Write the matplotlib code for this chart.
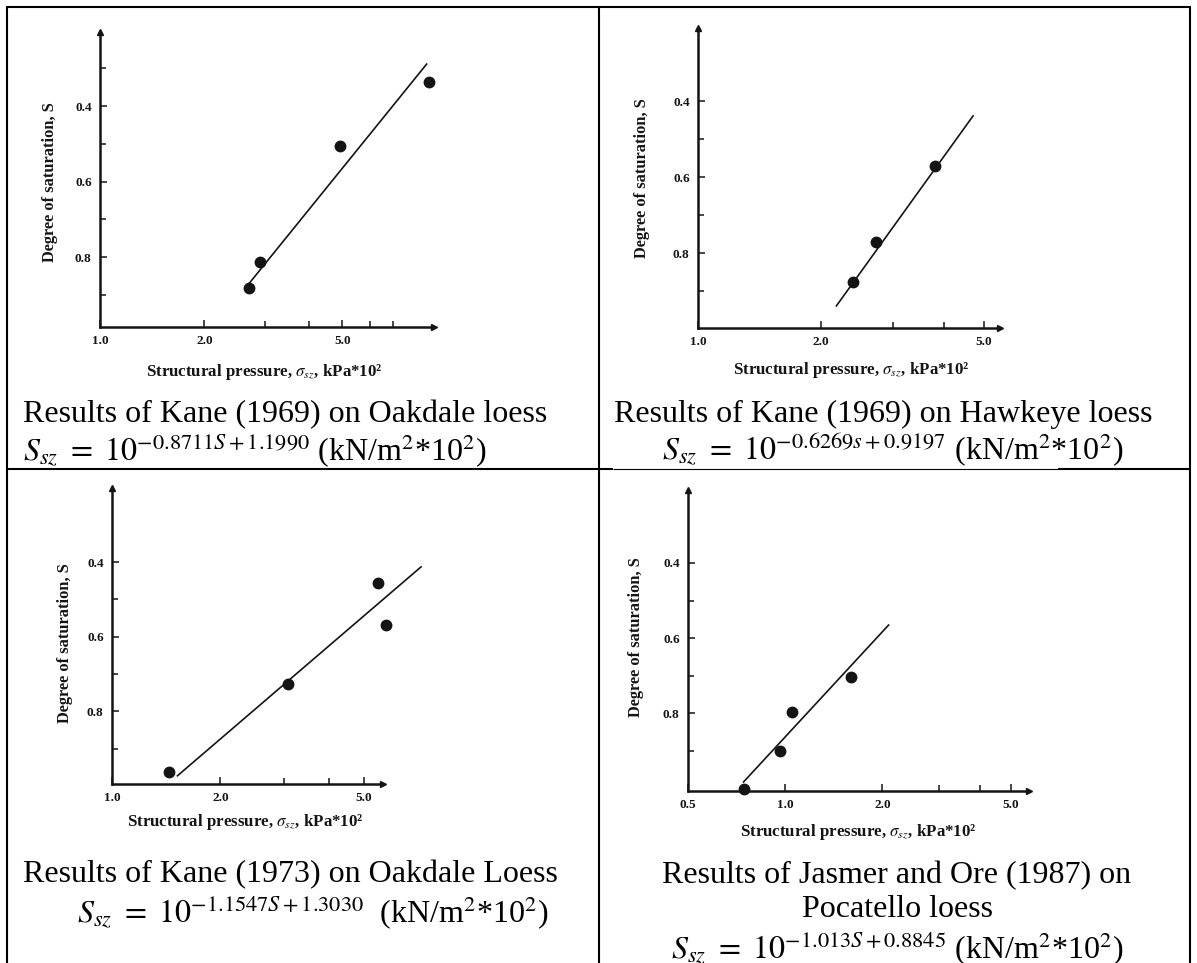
"""
Four saturation vs structural pressure plots laid out in a 2x2 table with captions.
"""

import matplotlib
matplotlib.use('Agg')
import matplotlib.pyplot as plt
from matplotlib.lines import Line2D

W, H = 1197, 963  # output size in pixels (dpi = 100)

# Kane (1969), Oakdale loess
oak69_pressure = [2.69, 2.89, 4.92, 8.87]
oak69_sat = [0.881, 0.813, 0.506, 0.337]
oak69_fit_pressure = [2.67, 8.76]
oak69_fit_sat = [0.874, 0.289]

# Kane (1969), Hawkeye loess
hawk_pressure = [2.39, 2.72, 3.80]
hawk_sat = [0.876, 0.771, 0.571]
hawk_fit_pressure = [2.18, 4.71]
hawk_fit_sat = [0.939, 0.439]

# Kane (1973), Oakdale loess
oak73_pressure = [1.44, 3.08, 5.48, 5.77]
oak73_sat = [0.962, 0.727, 0.456, 0.568]
oak73_fit_pressure = [1.52, 7.22]
oak73_fit_sat = [0.972, 0.413]

# Jasmer and Ore (1987), Pocatello loess
poc_pressure = [0.743, 0.964, 1.053, 1.60]
poc_sat = [1.0, 0.899, 0.797, 0.704]
poc_fit_pressure = [0.743, 2.09]
poc_fit_sat = [0.982, 0.565]

y_ticks = [0.4, 0.6, 0.8]
y_tick_labels = ['0.4', '0.6', '0.8']

captions = [
    ["Results of Kane (1969) on Oakdale loess",
     r"$S_{sz}\ =\ 10^{-0.8711S+1.1990}$ (kN/m$^2$*10$^2$)"],
    ["Results of Kane (1969) on Hawkeye loess",
     r"$S_{sz}\ =\ 10^{-0.6269s+0.9197}$ (kN/m$^2$*10$^2$)"],
    ["Results of Kane (1973) on Oakdale Loess",
     r"$S_{sz}\ =\ 10^{-1.1547S+1.3030}$  (kN/m$^2$*10$^2$)"],
    ["Results of Jasmer and Ore (1987) on", "Pocatello loess",
     r"$S_{sz}\ =\ 10^{-1.013S+0.8845}$ (kN/m$^2$*10$^2$)"],
]

plt.rcParams['font.family'] = ['Liberation Serif', 'DejaVu Serif']
plt.rcParams['mathtext.fontset'] = 'stix'

INK = '#141414'

fig = plt.figure(figsize=(W / 100, H / 100), dpi=100)


def fx(px):
    return px / W


def fy(py):
    return 1 - py / H


def draw_panel(box, xlim, ylim, xticks, xlabels, xminor, yminor,
               pressure, sat, fit_p, fit_s, ylab_xy, xlab_xy):
    left, top, right, bottom = box  # pixel box: y-axis x, arrow top, arrow tip x, x-axis y
    ax = fig.add_axes([fx(left), fy(bottom), (right - left) / W, (bottom - top) / H])
    ax.set_xscale('log')
    ax.set_xlim(*xlim)
    ax.set_ylim(*ylim)  # inverted: saturation grows downward

    ax.plot(fit_p, fit_s, color=INK, lw=1.2, clip_on=False)
    ax.plot(pressure, sat, 'o', color=INK, ms=7.5, clip_on=False)

    for side in ('top', 'right'):
        ax.spines[side].set_visible(False)
    for side in ('left', 'bottom'):
        ax.spines[side].set_linewidth(1.8)
        ax.spines[side].set_color(INK)
    # arrow heads on the two axes
    ax.plot(1, 0, '>', transform=ax.transAxes, clip_on=False, ms=5, color=INK)
    ax.plot(0, 1, '^', transform=ax.transAxes, clip_on=False, ms=5, color=INK)

    ax.set_xticks(xticks)
    ax.set_xticklabels(xlabels)
    ax.set_xticks(xminor, minor=True)
    ax.set_xticklabels([], minor=True)
    ax.set_yticks(y_ticks)
    ax.set_yticklabels(y_tick_labels)
    ax.set_yticks(yminor, minor=True)
    ax.tick_params(which='both', direction='in', color=INK, width=1.1)
    ax.tick_params(which='major', length=5, labelsize=9.5, labelcolor=INK, pad=6)
    ax.tick_params(which='minor', length=4)
    for lab in ax.get_xticklabels() + ax.get_yticklabels():
        lab.set_fontweight('bold')

    ax.set_ylabel('Degree of saturation, S', fontsize=11.8, fontweight='bold', color=INK)
    ax.yaxis.set_label_coords(fx(ylab_xy[0]), fy(ylab_xy[1]), transform=fig.transFigure)
    ax.yaxis.label.set_va('center')
    ax.set_xlabel(r'Structural pressure, $\sigma_{sz}$, kPa*10²', fontsize=12.2,
                  fontweight='bold', color=INK)
    ax.xaxis.set_label_coords(fx(xlab_xy[0]), fy(xlab_xy[1]), transform=fig.transFigure)
    ax.xaxis.label.set_va('center')
    return ax


draw_panel((100, 32, 434, 327), (1.0, 9.2), (0.985, 0.204),
           [1, 2, 5], ['1.0', '2.0', '5.0'], [3, 4, 6, 7], [0.3, 0.5, 0.7, 0.9],
           oak69_pressure, oak69_sat, oak69_fit_pressure, oak69_fit_sat,
           (50, 182), (264, 372))
draw_panel((698, 28, 1000, 328), (1.0, 5.48), (0.997, 0.208),
           [1, 2, 5], ['1.0', '2.0', '5.0'], [3, 4], [0.5, 0.7, 0.9],
           hawk_pressure, hawk_sat, hawk_fit_pressure, hawk_fit_sat,
           (642, 178), (851, 370))
draw_panel((112, 488, 383, 784), (1.0, 5.66), (0.994, 0.202),
           [1, 2, 5], ['1.0', '2.0', '5.0'], [3, 4], [0.5, 0.7, 0.9],
           oak73_pressure, oak73_sat, oak73_fit_pressure, oak73_fit_sat,
           (65, 643), (245, 822))
draw_panel((688, 490, 1029, 791), (0.5, 5.69), (1.006, 0.206),
           [0.5, 1, 2, 5], ['0.5', '1.0', '2.0', '5.0'], [3, 4], [0.5, 0.7, 0.9],
           poc_pressure, poc_sat, poc_fit_pressure, poc_fit_sat,
           (636, 637), (858, 832))

# captions under each plot
CAP = 23
fig.text(fx(23), fy(422), captions[0][0], fontsize=CAP, va='baseline')
fig.text(fx(23), fy(460), captions[0][1], fontsize=CAP, va='baseline')
fig.text(fx(614), fy(422), captions[1][0], fontsize=CAP, va='baseline')
fig.text(fx(662), fy(459), captions[1][1], fontsize=CAP, va='baseline')
fig.text(fx(23), fy(882), captions[2][0], fontsize=CAP, va='baseline')
fig.text(fx(77), fy(922), captions[2][1], fontsize=CAP, va='baseline')
fig.text(fx(897), fy(883), captions[3][0], fontsize=CAP, va='baseline', ha='center')
fig.text(fx(897), fy(917), captions[3][1], fontsize=CAP, va='baseline', ha='center')
fig.text(fx(897), fy(958), captions[3][2], fontsize=CAP, va='baseline', ha='center')


# table borders
def rule(x0, y0, x1, y1, lw=1.5):
    fig.add_artist(Line2D([fx(x0), fx(x1)], [fy(y0), fy(y1)], transform=fig.transFigure,
                          color='black', lw=lw, solid_capstyle='butt'))


rule(6, 7, 1191, 7)
rule(7, 7, 7, 963)
rule(1190, 7, 1190, 963)
rule(599, 7, 599, 963)
rule(6, 469, 613, 469)
rule(613, 469, 1058, 469, lw=0.8)
rule(1058, 469, 1191, 469)

fig.savefig('out.png', dpi=100)
